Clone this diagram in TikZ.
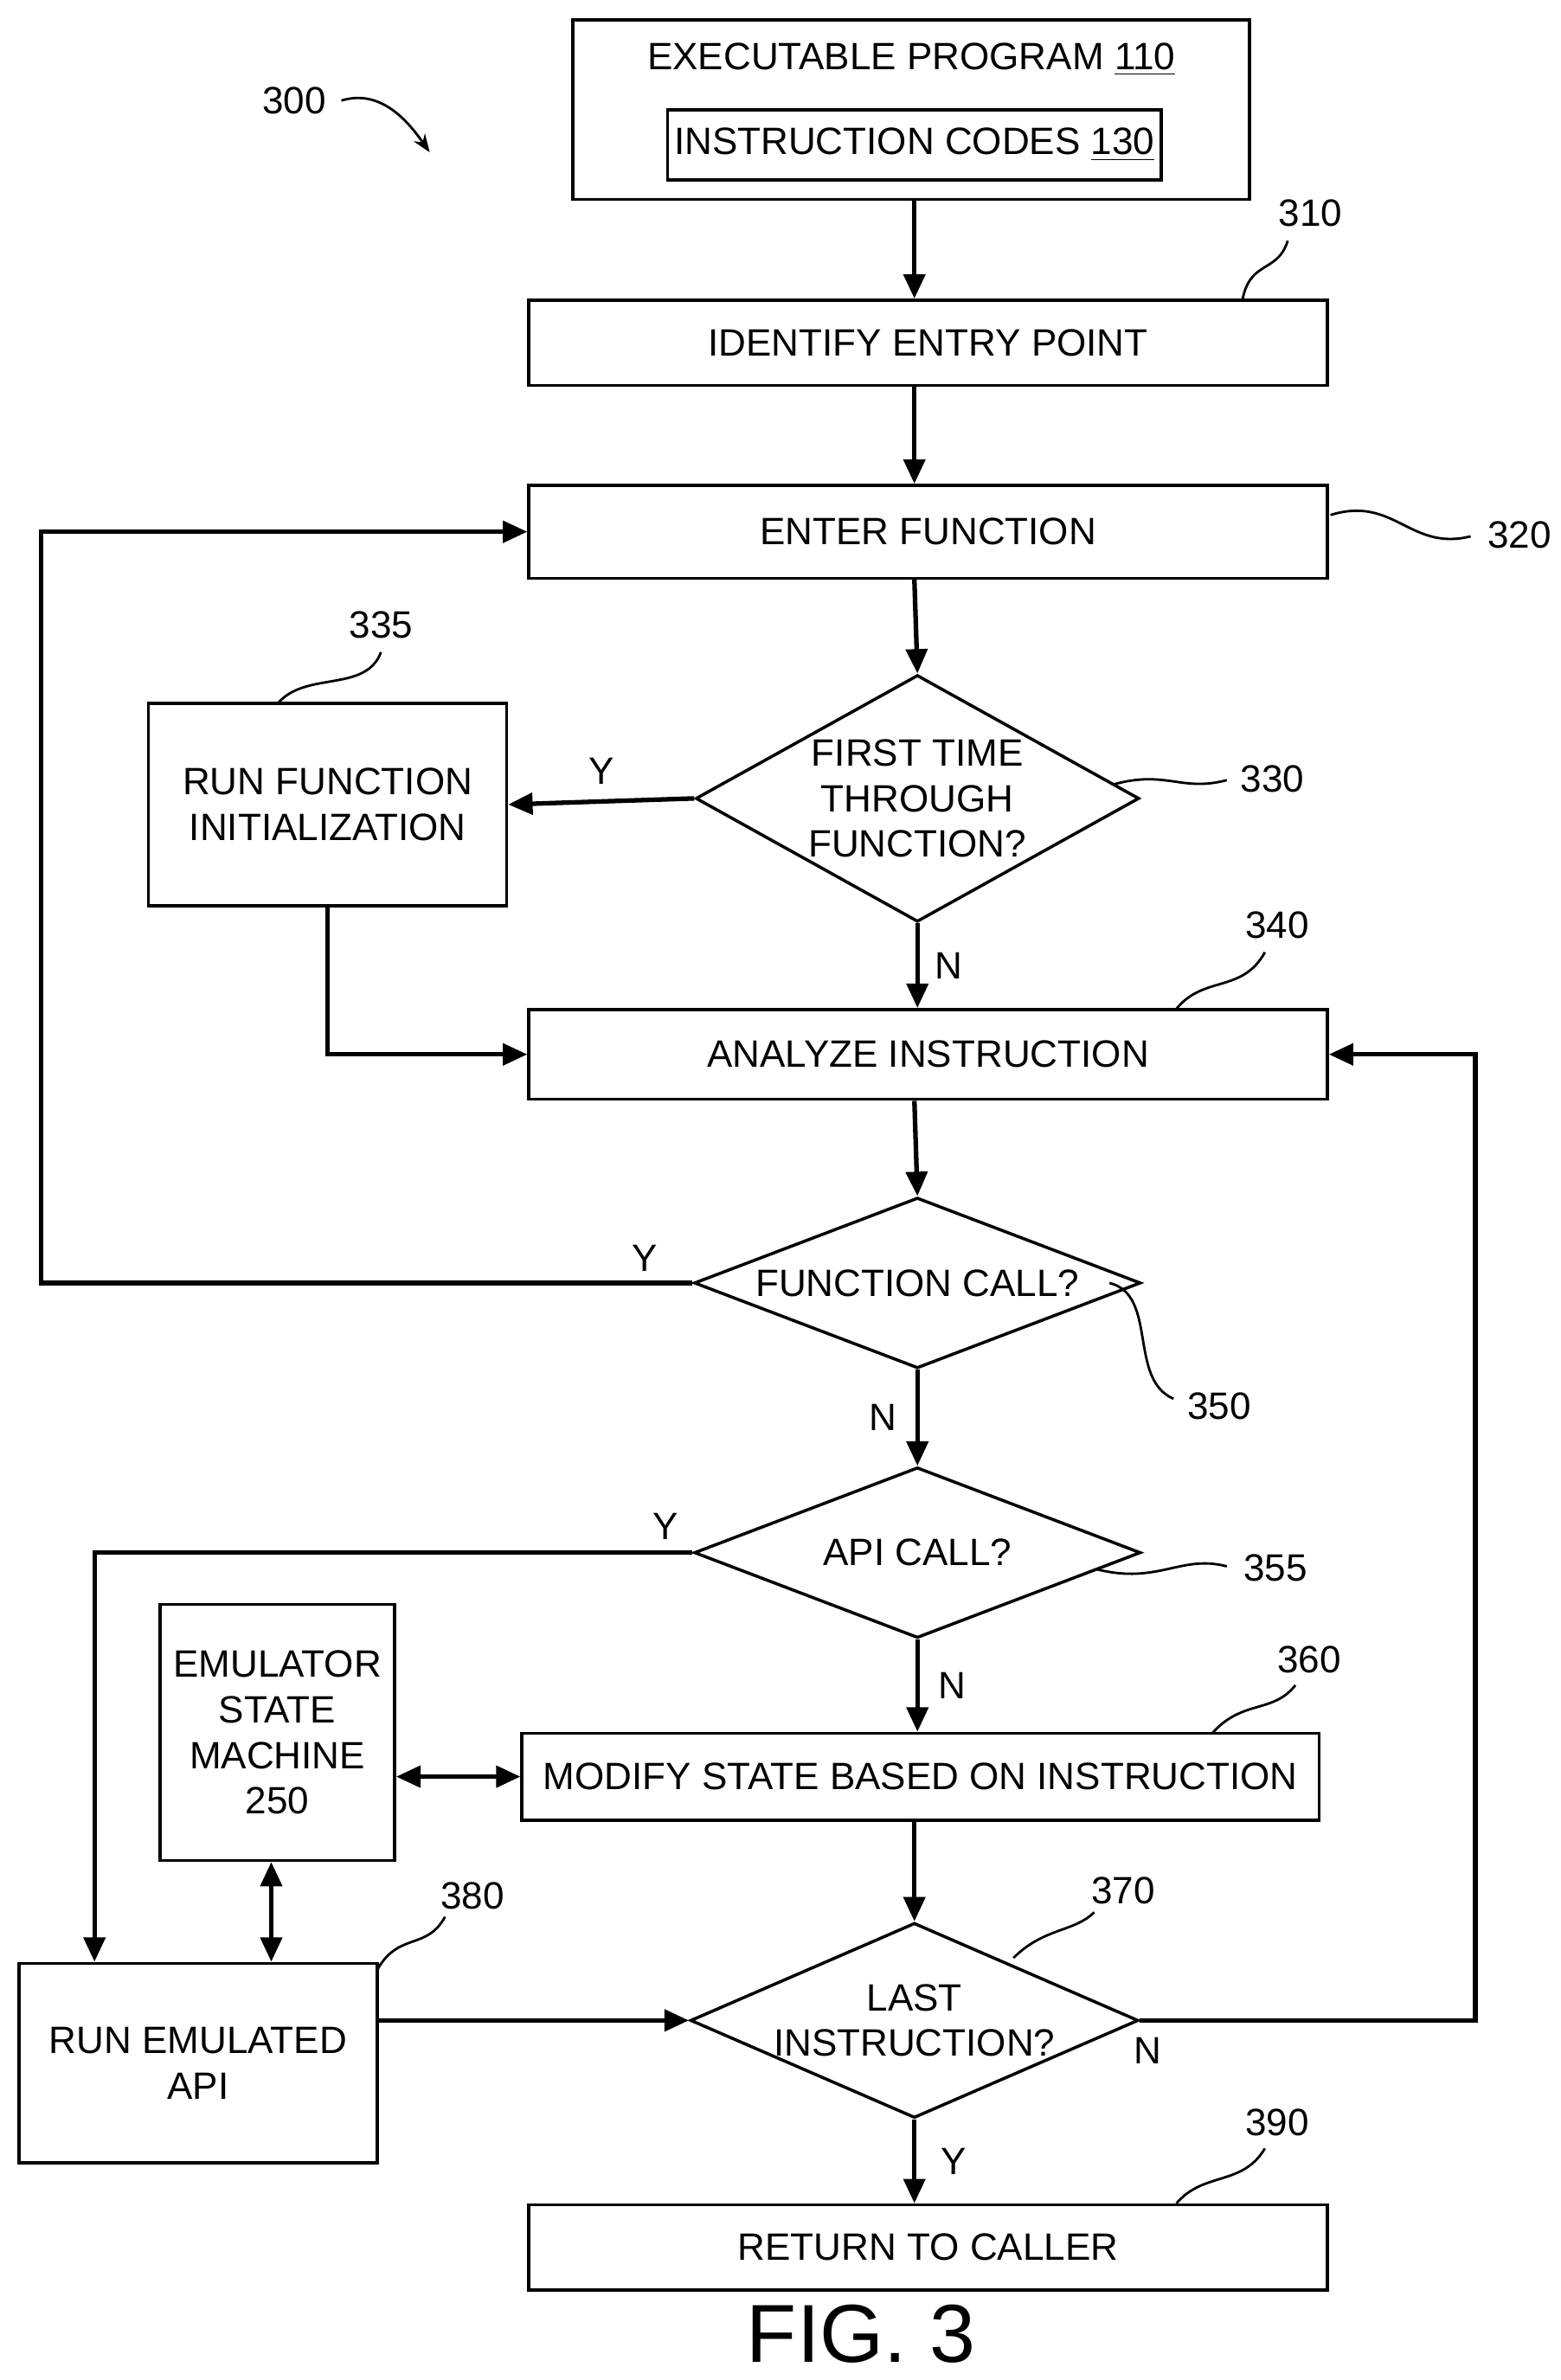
\documentclass[tikz,border=0pt]{standalone}
\usepackage{fontspec}
\setmainfont{Liberation Sans}
\usetikzlibrary{shapes.geometric,arrows.meta}
\begin{document}
\begin{tikzpicture}[x=0.5pt, y=-0.5pt, font=\fontsize{12.5}{15}\selectfont]
    % Styles
    \tikzstyle{box} = [rectangle, draw=black, line width=1pt, inner sep=0pt, align=center]
    \tikzstyle{dec} = [diamond, draw=black, line width=1pt, inner sep=0pt]
    \tikzstyle{arrow} = [-{Triangle[length=8pt,width=7pt]}, line width=1.5pt]
    \tikzstyle{both} = [{Triangle[length=8pt,width=7pt]}-{Triangle[length=8pt,width=7pt]}, line width=1.5pt]
    \tikzstyle{lead} = [line width=0.8pt]
    \tikzstyle{yn} = [inner sep=0pt]

    \useasboundingbox (0,0) rectangle (1024,1562);

    % Nodes
    \node[box, minimum width=444pt/2, minimum height=118pt/2] (p110) at (598,72) {};
    \node[anchor=center] at (598,39) {EXECUTABLE PROGRAM \underline{110}};
    \node[box, minimum width=324pt/2, minimum height=46pt/2] (c130) at (600,95) {INSTRUCTION CODES \underline{130}};
    \node[box, minimum width=524pt/2, minimum height=56pt/2] (s310) at (609,225) {IDENTIFY ENTRY POINT};
    \node[box, minimum width=524pt/2, minimum height=61pt/2] (s320) at (609,349) {ENTER FUNCTION};
    \node[dec, minimum width=291pt/2, minimum height=162pt/2] (d330) at (602,524) {};
    \node[align=center] at (d330) {FIRST TIME\\THROUGH\\FUNCTION?};
    \node[box, minimum width=235pt/2, minimum height=133pt/2] (s335) at (215,528) {RUN FUNCTION\\INITIALIZATION};
    \node[box, minimum width=524pt/2, minimum height=59pt/2] (s340) at (609,692) {ANALYZE INSTRUCTION};
    \node[dec, minimum width=293pt/2, minimum height=112pt/2] (d350) at (602,842) {};
    \node at (d350) {FUNCTION CALL?};
    \node[dec, minimum width=293pt/2, minimum height=112pt/2] (d355) at (602,1019) {};
    \node at (d355) {API CALL?};
    \node[box, minimum width=154pt/2, minimum height=168pt/2] (e250) at (182,1137) {EMULATOR\\STATE\\MACHINE\\250};
    \node[box, minimum width=523pt/2, minimum height=57pt/2] (s360) at (604,1166) {MODIFY STATE BASED ON INSTRUCTION};
    \node[dec, minimum width=294pt/2, minimum height=128pt/2] (d370) at (600,1326) {};
    \node[align=center] at (d370) {LAST\\INSTRUCTION?};
    \node[box, minimum width=235pt/2, minimum height=131pt/2] (s380) at (130,1354) {RUN EMULATED\\API};
    \node[box, minimum width=524pt/2, minimum height=56pt/2] (s390) at (609,1475) {RETURN TO CALLER};
    \node[font=\fontsize{27}{30}\selectfont] (fig) at (565,1532) {FIG. 3};

    % Arrows
    \draw[arrow] (p110.south -| 600,0) -- (s310.north -| 600,0);
    \draw[arrow] (s310.south -| 600,0) -- (s320.north -| 600,0);
    \draw[arrow] (s320.south -| 600,0) -- (d330.north);
    \draw[arrow] (d330.west) -- node[yn, above=5pt] {Y} (s335.east);
    \draw[arrow] (d330.south) -- node[yn, right=5pt] {N} (s340.north -| d330.south);
    \draw[arrow] (s335.south) |- (s340.west);
    \draw[arrow] (s340.south -| 600,0) -- (d350.north);
    \draw[arrow] (d350.west) -| (27,842) |- (s320.west);
    \node[yn] at (423,826) {Y};
    \draw[arrow] (d350.south) -- node[yn, left=6pt] {N} (d355.north);
    \draw[arrow] (d355.west) -| (s380.north -| 62,0);
    \node[yn] at (437,1002) {Y};
    \draw[arrow] (d355.south) -- node[yn, right=6pt] {N} (s360.north -| d355.south);
    \draw[both] (e250.east |- s360) -- (s360.west);
    \draw[both] (e250.south -| 178,0) -- (s380.north -| 178,0);
    \draw[arrow] (s360.south -| 600,0) -- (d370.north);
    \draw[arrow] (s380.east |- d370) -- (d370.west);
    \draw[arrow] (d370.east) -| (968,692) -- (s340.east);
    \node[yn] at (753,1346) {N};
    \draw[arrow] (d370.south) -- node[yn, right=8pt] {Y} (s390.north -| d370.south);

    % Reference labels
    \node (l300) at (193,66) {300};
    \draw[-{Stealth[length=6pt]}, lead] (224,66) .. controls (250,58) and (268,80) .. (282,100);
    \node (l310) at (860,140) {310};
    \draw[lead] (815,198) .. controls (820,170) and (838,180) .. (845,158);
    \node (l320) at (997,351) {320};
    \draw[lead] (873,338) .. controls (915,325) and (925,362) .. (965,352);
    \node (l330) at (835,511) {330};
    \draw[lead] (730,515) .. controls (765,505) and (775,520) .. (805,512);
    \node (l335) at (250,410) {335};
    \draw[lead] (182,462) .. controls (200,440) and (240,455) .. (250,428);
    \node (l340) at (838,607) {340};
    \draw[lead] (772,662) .. controls (790,640) and (815,652) .. (830,625);
    \node (l350) at (800,923) {350};
    \draw[lead] (728,842) .. controls (760,850) and (740,905) .. (770,918);
    \node (l355) at (837,1029) {355};
    \draw[lead] (720,1030) .. controls (760,1040) and (775,1020) .. (805,1028);
    \node (l360) at (859,1089) {360};
    \draw[lead] (795,1138) .. controls (815,1115) and (835,1125) .. (850,1106);
    \node (l370) at (737,1241) {370};
    \draw[lead] (665,1285) .. controls (685,1265) and (705,1268) .. (718,1255);
    \node (l380) at (310,1244) {380};
    \draw[lead] (248,1292) .. controls (262,1268) and (280,1280) .. (292,1258);
    \node (l390) at (838,1393) {390};
    \draw[lead] (772,1446) .. controls (790,1425) and (815,1435) .. (830,1410);
\end{tikzpicture}
\end{document}
